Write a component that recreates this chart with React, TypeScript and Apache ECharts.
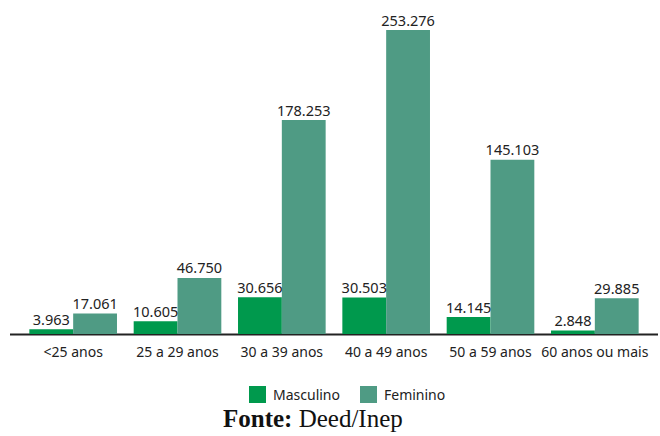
import React, { useEffect, useRef } from "react";
import * as echarts from "echarts";

const categories = ["<25 anos", "25 a 29 anos", "30 a 39 anos", "40 a 49 anos", "50 a 59 anos", "60 anos ou mais"];
const masculino = [3963, 10605, 30656, 30503, 14145, 2848];
const feminino = [17061, 46750, 178253, 253276, 145103, 29885];
const seriesNames = ["Masculino", "Feminino"];

const fmt = (v: number) => String(v).replace(/\B(?=(\d{3})+(?!\d))/g, ".");

export default function App() {
  const ref = useRef<HTMLDivElement>(null);
  useEffect(() => {
    const chart = echarts.init(ref.current!, null, { renderer: "svg" });
    const labelCfg = {
      show: true,
      position: "top" as const,
      distance: 3,
      color: "#222",
      fontSize: 14.5,
      fontFamily: "Noto Sans",
      formatter: (p: any) => fmt(p.value),
    };
    chart.setOption({
      animation: false,
      backgroundColor: "#fff",
      grid: { left: 21, right: 13, top: 30, bottom: 102 },
      xAxis: {
        type: "category",
        data: categories,
        axisLine: { show: false },
        axisTick: { show: false },
        axisLabel: { color: "#222", fontSize: 14, fontFamily: "Noto Sans", margin: 10, interval: 0 },
      },
      yAxis: { type: "value", min: 0, max: 253276, show: false, splitLine: { show: false } },
      legend: {
        data: seriesNames,
        top: 381,
        left: 244,
        itemWidth: 17,
        itemHeight: 17,
        itemGap: 20,
        icon: "rect",
        textStyle: { color: "#222", fontSize: 14, fontFamily: "Noto Sans", padding: [0, 0, 0, 2] },
      },
      series: [
        {
          name: seriesNames[0],
          type: "bar",
          data: masculino,
          barGap: "0%",
          barCategoryGap: "16%",
          itemStyle: { color: "#00994d" },
          label: labelCfg,
        },
        {
          name: seriesNames[1],
          type: "bar",
          data: feminino,
          barGap: "0%",
          barCategoryGap: "16%",
          itemStyle: { color: "#4f9b84" },
          label: labelCfg,
        },
      ],
      graphic: [
        {
          type: "line",
          shape: { x1: 10, y1: 334.5, x2: 658, y2: 334.5 },
          style: { stroke: "#222", lineWidth: 2 },
        },
        {
          type: "text",
          left: 223,
          top: 406,
          style: {
            text: "{b|Fonte:} Deed/Inep",
            fontFamily: "Liberation Serif",
            fontSize: 25,
            fill: "#111",
            rich: {
              b: { fontWeight: "bold", fontFamily: "Liberation Serif", fontSize: 25, fill: "#111" },
            },
          },
        },
      ],
    });
    return () => chart.dispose();
  }, []);
  return <div ref={ref} style={{ width: 660, height: 436, position: "absolute", left: 0, top: 0 }} />;
}
